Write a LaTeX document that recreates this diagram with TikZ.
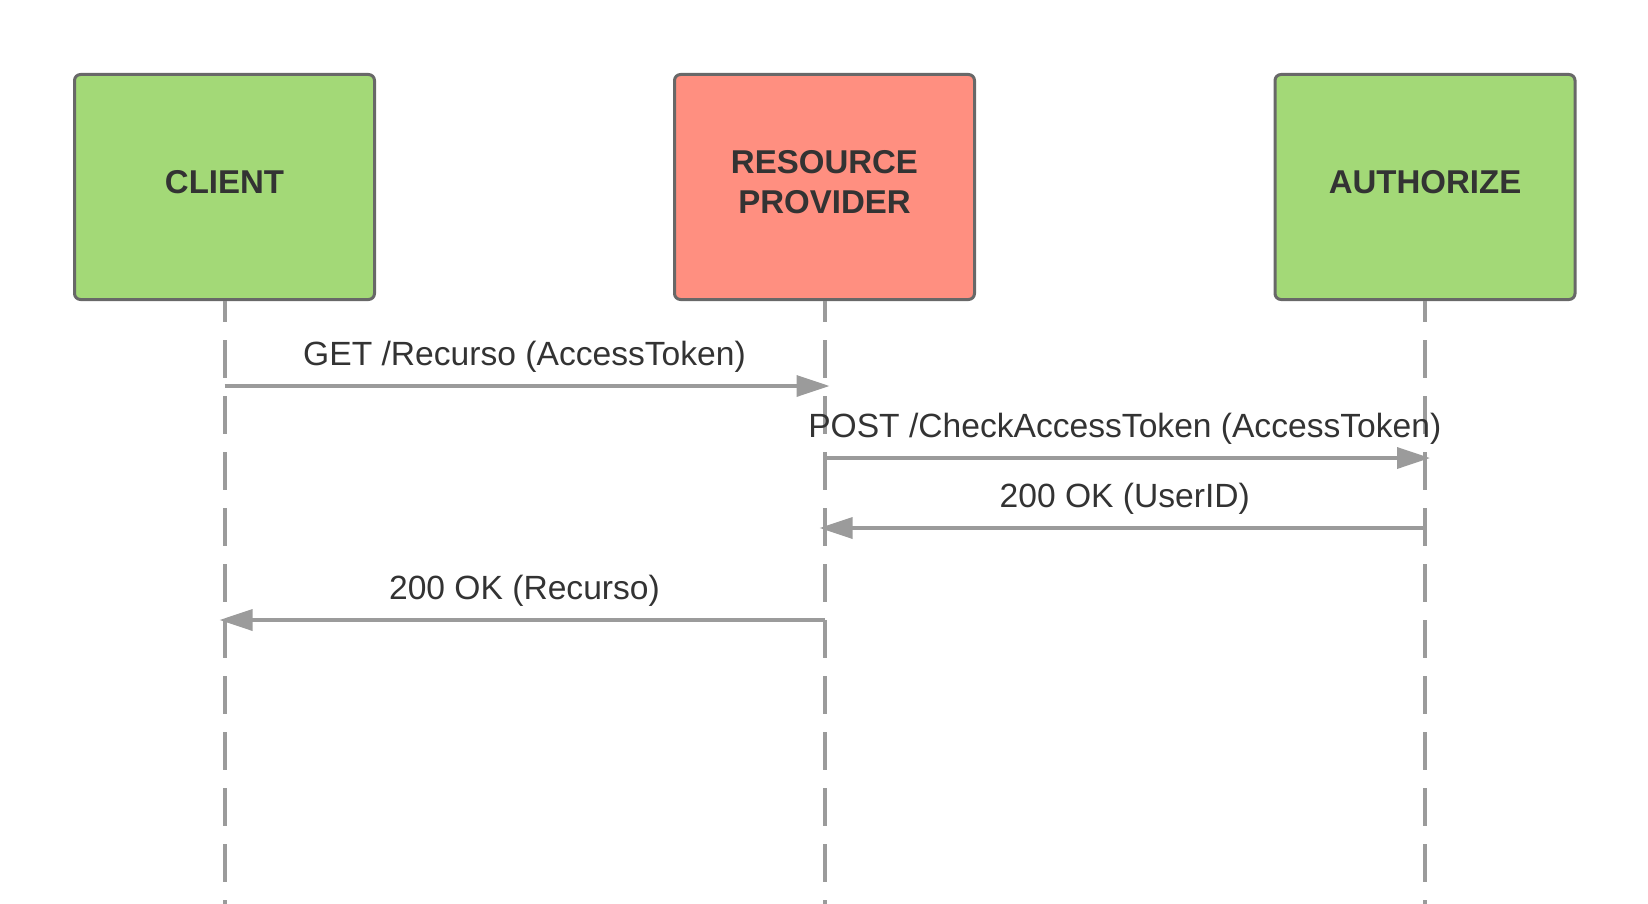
\documentclass[tikz,border=0pt]{standalone}
\usepackage{fontspec}
\setsansfont{Liberation Sans}
\definecolor{actorgreen}{HTML}{A3D977}
\definecolor{actorred}{HTML}{FF8F80}
\definecolor{edgegray}{HTML}{686868}
\definecolor{linegray}{HTML}{9B9B9B}
\definecolor{darktext}{HTML}{333333}
\usetikzlibrary{arrows.meta}
\tikzset{
  actor/.style={
    draw=edgegray, fill=#1, line width=1.5pt, rounded corners=3pt,
    minimum width=150pt, minimum height=112.5pt,
    font=\fontsize{16.5}{20}\selectfont\sffamily\bfseries,
    text=darktext, align=center, text depth=5pt
  },
  actor/.default=actorgreen,
  lifeline/.style={linegray, line width=2pt,
    dash pattern=on 18.75pt off 9.25pt, dash phase=8.4pt},
  msg/.style={-{Triangle[length=16.5pt,width=10.5pt]}, linegray,
    line width=1.75pt, shorten >=-2.5pt},
  lbl/.style={font=\fontsize{16.8}{20}\selectfont\sffamily, text=darktext,
    midway, yshift=14.8pt},
}

\begin{document}
\begin{tikzpicture}[x=0.5pt, y=-0.5pt]
    \useasboundingbox (0,0) rectangle (1648,904);

    % participants
    \node[actor] (client) at (224.5,187) {CLIENT};
    \node[actor=actorred] (resource) at (824.5,187) {RESOURCE\\PROVIDER};
    \node[actor] (authorize) at (1425,187) {AUTHORIZE};

    % lifelines
    \foreach \who in {client,resource,authorize}
      \draw[lifeline] (\who.south) -- (\who.south |- 0,904);

    % messages
    \draw[msg] (client.south |- 0,386) -- node[lbl] {GET /Recurso (AccessToken)}
      (resource.south |- 0,386);
    \draw[msg] (resource.south |- 0,458) -- node[lbl] {POST /CheckAccessToken (AccessToken)}
      (authorize.south |- 0,458);
    \draw[msg] (authorize.south |- 0,528) -- node[lbl] {200 OK (UserID)}
      (resource.south |- 0,528);
    \draw[msg] (resource.south |- 0,620) -- node[lbl] {200 OK (Recurso)}
      (client.south |- 0,620);
  \end{tikzpicture}
\end{document}
